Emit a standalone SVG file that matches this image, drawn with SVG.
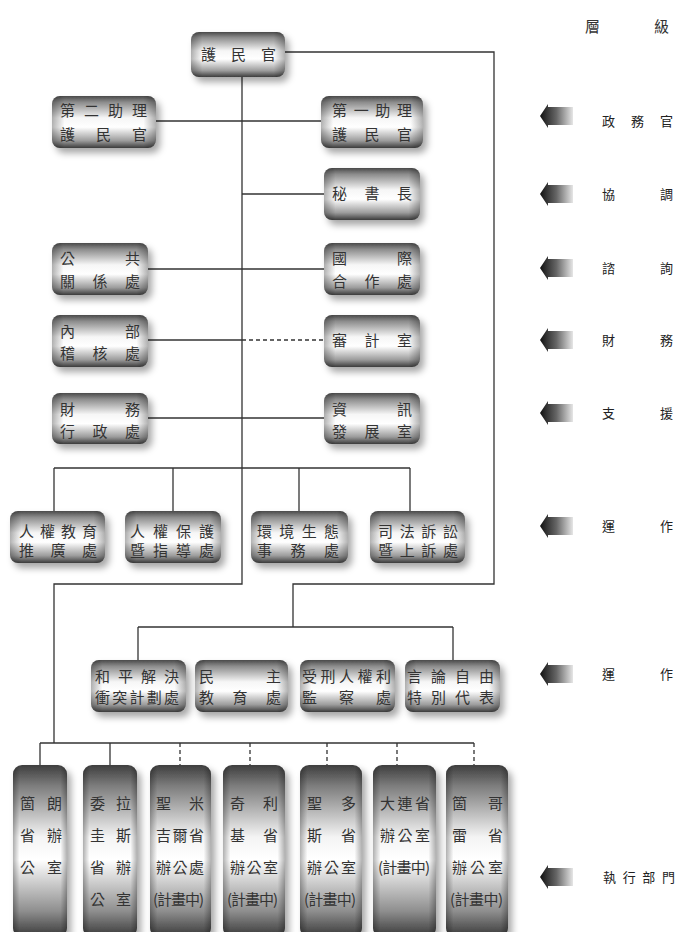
<svg xmlns="http://www.w3.org/2000/svg" width="677" height="932" viewBox="0 0 677 932">
<defs>
<style>
.bx{fill:url(#gv);filter:url(#sh)}
.bt{fill:url(#gt);filter:url(#sh)}
.ov{fill:url(#gh)}
.t{font-family:"Noto Sans CJK TC","Noto Sans CJK SC",sans-serif;font-size:15px;fill:#333}
.tb{font-family:"Noto Sans CJK TC","Noto Sans CJK SC",sans-serif;font-size:15px;fill:#333}
.lb{font-family:"Noto Sans CJK TC","Noto Sans CJK SC",sans-serif;font-size:13px;fill:#222}
.ln{fill:none;stroke:#333;stroke-width:1.3}
.ds{fill:none;stroke:#333;stroke-width:1.3;stroke-dasharray:4 3}
.ar{fill:url(#ga)}
</style>
<linearGradient id="gv" x1="0" y1="0" x2="0" y2="1">
<stop offset="0" stop-color="#4a4a4a"/>
<stop offset="0.12" stop-color="#8c8c8c"/>
<stop offset="0.42" stop-color="#f6f6f6"/>
<stop offset="0.6" stop-color="#ffffff"/>
<stop offset="0.86" stop-color="#9c9c9c"/>
<stop offset="1" stop-color="#3c3c3c"/>
</linearGradient>
<linearGradient id="gt" x1="0" y1="0" x2="0" y2="1">
<stop offset="0" stop-color="#3e3e3e"/>
<stop offset="0.12" stop-color="#7c7c7c"/>
<stop offset="0.42" stop-color="#f4f4f4"/>
<stop offset="0.55" stop-color="#ffffff"/>
<stop offset="0.85" stop-color="#8e8e8e"/>
<stop offset="1" stop-color="#383838"/>
</linearGradient>
<linearGradient id="gh" x1="0" y1="0" x2="1" y2="0">
<stop offset="0" stop-color="#000" stop-opacity="0.3"/>
<stop offset="0.12" stop-color="#000" stop-opacity="0"/>
<stop offset="0.88" stop-color="#000" stop-opacity="0"/>
<stop offset="1" stop-color="#000" stop-opacity="0.3"/>
</linearGradient>
<linearGradient id="ga" x1="0" y1="0" x2="1" y2="0">
<stop offset="0" stop-color="#111"/>
<stop offset="0.5" stop-color="#666"/>
<stop offset="1" stop-color="#e6e6e6"/>
</linearGradient>
<filter id="sh" x="-20%" y="-20%" width="150%" height="150%">
<feDropShadow dx="4" dy="5" stdDeviation="3.5" flood-color="#000" flood-opacity="0.35"/>
</filter>
<path id="arrow" d="M0,0 L8,-12 L8,-9 L33,-9 L33,9 L8,9 L8,12 Z"/>
</defs>
<rect width="677" height="932" fill="#fff"/>

<g id="connectors">
<polyline class="ln" points="285,52 494,52 494,584 293,584 293,627"/>
<line class="ln" x1="138" y1="627" x2="453" y2="627"/>
<line class="ln" x1="138" y1="627" x2="138" y2="660"/>
<line class="ln" x1="453" y1="627" x2="453" y2="660"/>
<polyline class="ln" points="242,77 242,584 54,584 54,743"/>
<line class="ln" x1="155" y1="121" x2="321" y2="121"/>
<line class="ln" x1="242" y1="194" x2="324" y2="194"/>
<line class="ln" x1="148" y1="269" x2="324" y2="269"/>
<line class="ln" x1="148" y1="340" x2="242" y2="340"/>
<line class="ds" x1="242" y1="340" x2="324" y2="340"/>
<line class="ln" x1="148" y1="418" x2="324" y2="418"/>
<line class="ln" x1="54" y1="468" x2="410" y2="468"/>
<line class="ln" x1="54" y1="468" x2="54" y2="511"/>
<line class="ln" x1="173" y1="468" x2="173" y2="511"/>
<line class="ln" x1="299" y1="468" x2="299" y2="511"/>
<line class="ln" x1="410" y1="468" x2="410" y2="511"/>
<line class="ln" x1="40" y1="743" x2="474" y2="743"/>
<line class="ln" x1="40" y1="743" x2="40" y2="765"/>
<line class="ln" x1="110" y1="743" x2="110" y2="765"/>
<line class="ds" x1="180" y1="743" x2="180" y2="765"/>
<line class="ds" x1="250" y1="743" x2="250" y2="765"/>
<line class="ds" x1="327" y1="743" x2="327" y2="765"/>
<line class="ds" x1="397" y1="743" x2="397" y2="765"/>
<line class="ds" x1="474" y1="743" x2="474" y2="765"/>
</g>

<g id="n0"><rect class="bx" x="191" y="32" width="94" height="45" rx="8"/><rect class="ov" x="191" y="32" width="94" height="45" rx="8"/>
<text class="t" x="201" y="60" textLength="75" lengthAdjust="spacing">護民官</text></g>

<g id="n1"><rect class="bx" x="52" y="96" width="104" height="52" rx="8"/><rect class="ov" x="52" y="96" width="104" height="52" rx="8"/>
<text class="t" x="60" y="116" textLength="87" lengthAdjust="spacing">第二助理</text>
<text class="t" x="60" y="140" textLength="87" lengthAdjust="spacing">護民官</text></g>

<g id="n2"><rect class="bx" x="321" y="96" width="102" height="52" rx="8"/><rect class="ov" x="321" y="96" width="102" height="52" rx="8"/>
<text class="t" x="332" y="116" textLength="80" lengthAdjust="spacing">第一助理</text>
<text class="t" x="332" y="140" textLength="80" lengthAdjust="spacing">護民官</text></g>

<g id="n3"><rect class="bx" x="324" y="168" width="96" height="52" rx="8"/><rect class="ov" x="324" y="168" width="96" height="52" rx="8"/>
<text class="t" x="332" y="199" textLength="80" lengthAdjust="spacing">秘書長</text></g>

<g id="n4"><rect class="bx" x="52" y="243" width="96" height="52" rx="8"/><rect class="ov" x="52" y="243" width="96" height="52" rx="8"/>
<text class="t" x="60" y="264" textLength="80" lengthAdjust="spacing">公共</text>
<text class="t" x="60" y="287" textLength="80" lengthAdjust="spacing">關係處</text></g>

<g id="n5"><rect class="bx" x="324" y="243" width="96" height="52" rx="8"/><rect class="ov" x="324" y="243" width="96" height="52" rx="8"/>
<text class="t" x="332" y="264" textLength="80" lengthAdjust="spacing">國際</text>
<text class="t" x="332" y="287" textLength="80" lengthAdjust="spacing">合作處</text></g>

<g id="n6"><rect class="bx" x="52" y="315" width="96" height="52" rx="8"/><rect class="ov" x="52" y="315" width="96" height="52" rx="8"/>
<text class="t" x="60" y="337" textLength="80" lengthAdjust="spacing">內部</text>
<text class="t" x="60" y="359" textLength="80" lengthAdjust="spacing">稽核處</text></g>

<g id="n7"><rect class="bx" x="324" y="315" width="96" height="52" rx="8"/><rect class="ov" x="324" y="315" width="96" height="52" rx="8"/>
<text class="t" x="332" y="346" textLength="80" lengthAdjust="spacing">審計室</text></g>

<g id="n8"><rect class="bx" x="52" y="393" width="96" height="51" rx="8"/><rect class="ov" x="52" y="393" width="96" height="51" rx="8"/>
<text class="t" x="60" y="415" textLength="80" lengthAdjust="spacing">財務</text>
<text class="t" x="60" y="437" textLength="80" lengthAdjust="spacing">行政處</text></g>

<g id="n9"><rect class="bx" x="324" y="393" width="96" height="51" rx="8"/><rect class="ov" x="324" y="393" width="96" height="51" rx="8"/>
<text class="t" x="332" y="415" textLength="80" lengthAdjust="spacing">資訊</text>
<text class="t" x="332" y="437" textLength="80" lengthAdjust="spacing">發展室</text></g>

<g id="n10"><rect class="bx" x="10" y="511" width="95" height="52" rx="8"/><rect class="ov" x="10" y="511" width="95" height="52" rx="8"/>
<text class="t" x="19" y="537" textLength="78" lengthAdjust="spacing">人權教育</text>
<text class="t" x="19" y="556" textLength="78" lengthAdjust="spacing">推廣處</text></g>

<g id="n11"><rect class="bx" x="125" y="511" width="96" height="52" rx="8"/><rect class="ov" x="125" y="511" width="96" height="52" rx="8"/>
<text class="t" x="130" y="537" textLength="84" lengthAdjust="spacing">人權保護</text>
<text class="t" x="130" y="556" textLength="84" lengthAdjust="spacing">暨指導處</text></g>

<g id="n12"><rect class="bx" x="251" y="511" width="97" height="52" rx="8"/><rect class="ov" x="251" y="511" width="97" height="52" rx="8"/>
<text class="t" x="257" y="537" textLength="82" lengthAdjust="spacing">環境生態</text>
<text class="t" x="257" y="556" textLength="82" lengthAdjust="spacing">事務處</text></g>

<g id="n13"><rect class="bx" x="370" y="511" width="95" height="52" rx="8"/><rect class="ov" x="370" y="511" width="95" height="52" rx="8"/>
<text class="t" x="378" y="537" textLength="80" lengthAdjust="spacing">司法訴訟</text>
<text class="t" x="378" y="556" textLength="80" lengthAdjust="spacing">暨上訴處</text></g>

<g id="n14"><rect class="bx" x="91" y="660" width="95" height="52" rx="8"/><rect class="ov" x="91" y="660" width="95" height="52" rx="8"/>
<text class="t" x="95" y="682" textLength="84" lengthAdjust="spacing">和平解決</text>
<text class="t" x="95" y="703" textLength="84" lengthAdjust="spacing">衝突計劃處</text></g>

<g id="n15"><rect class="bx" x="195" y="660" width="93" height="52" rx="8"/><rect class="ov" x="195" y="660" width="93" height="52" rx="8"/>
<text class="t" x="199" y="682" textLength="82" lengthAdjust="spacing">民主</text>
<text class="t" x="199" y="703" textLength="82" lengthAdjust="spacing">教育處</text></g>

<g id="n16"><rect class="bx" x="300" y="660" width="95" height="52" rx="8"/><rect class="ov" x="300" y="660" width="95" height="52" rx="8"/>
<text class="t" x="302" y="682" textLength="89" lengthAdjust="spacing">受刑人權利</text>
<text class="t" x="302" y="703" textLength="89" lengthAdjust="spacing">監察處</text></g>

<g id="n17"><rect class="bx" x="405" y="660" width="95" height="52" rx="8"/><rect class="ov" x="405" y="660" width="95" height="52" rx="8"/>
<text class="t" x="407" y="682" textLength="87" lengthAdjust="spacing">言論自由</text>
<text class="t" x="407" y="703" textLength="87" lengthAdjust="spacing">特別代表</text></g>

<g id="b1"><rect class="bt" x="13" y="765" width="54" height="172" rx="9"/><rect class="ov" x="13" y="765" width="54" height="172" rx="9"/>
<text class="tb" x="20" y="809" textLength="42" lengthAdjust="spacing">箇朗</text>
<text class="tb" x="20" y="841" textLength="42" lengthAdjust="spacing">省辦</text>
<text class="tb" x="20" y="873" textLength="42" lengthAdjust="spacing">公室</text></g>

<g id="b2"><rect class="bt" x="83" y="765" width="54" height="172" rx="9"/><rect class="ov" x="83" y="765" width="54" height="172" rx="9"/>
<text class="tb" x="90" y="809" textLength="41" lengthAdjust="spacing">委拉</text>
<text class="tb" x="90" y="841" textLength="41" lengthAdjust="spacing">圭斯</text>
<text class="tb" x="90" y="873" textLength="41" lengthAdjust="spacing">省辦</text>
<text class="tb" x="90" y="905" textLength="41" lengthAdjust="spacing">公室</text></g>

<g id="b3"><rect class="bt" x="150" y="765" width="61" height="172" rx="9"/><rect class="ov" x="150" y="765" width="61" height="172" rx="9"/>
<text class="tb" x="156" y="809" textLength="48" lengthAdjust="spacing">聖米</text>
<text class="tb" x="156" y="841" textLength="48" lengthAdjust="spacing">吉爾省</text>
<text class="tb" x="156" y="873" textLength="48" lengthAdjust="spacing">辦公處</text>
<text class="tb" x="153" y="905" textLength="51" lengthAdjust="spacing">(計畫中)</text></g>

<g id="b4"><rect class="bt" x="223" y="765" width="62" height="172" rx="9"/><rect class="ov" x="223" y="765" width="62" height="172" rx="9"/>
<text class="tb" x="230" y="809" textLength="48" lengthAdjust="spacing">奇利</text>
<text class="tb" x="230" y="841" textLength="48" lengthAdjust="spacing">基省</text>
<text class="tb" x="230" y="873" textLength="48" lengthAdjust="spacing">辦公室</text>
<text class="tb" x="227" y="905" textLength="51" lengthAdjust="spacing">(計畫中)</text></g>

<g id="b5"><rect class="bt" x="300" y="765" width="62" height="172" rx="9"/><rect class="ov" x="300" y="765" width="62" height="172" rx="9"/>
<text class="tb" x="307" y="809" textLength="49" lengthAdjust="spacing">聖多</text>
<text class="tb" x="307" y="841" textLength="49" lengthAdjust="spacing">斯省</text>
<text class="tb" x="307" y="873" textLength="49" lengthAdjust="spacing">辦公室</text>
<text class="tb" x="304" y="905" textLength="52" lengthAdjust="spacing">(計畫中)</text></g>

<g id="b6"><rect class="bt" x="373" y="765" width="63" height="172" rx="9"/><rect class="ov" x="373" y="765" width="63" height="172" rx="9"/>
<text class="tb" x="380" y="809" textLength="50" lengthAdjust="spacing">大連省</text>
<text class="tb" x="380" y="841" textLength="50" lengthAdjust="spacing">辦公室</text>
<text class="tb" x="378" y="873" textLength="52" lengthAdjust="spacing">(計畫中)</text></g>

<g id="b7"><rect class="bt" x="446" y="765" width="62" height="172" rx="9"/><rect class="ov" x="446" y="765" width="62" height="172" rx="9"/>
<text class="tb" x="452" y="809" textLength="51" lengthAdjust="spacing">箇哥</text>
<text class="tb" x="452" y="841" textLength="51" lengthAdjust="spacing">雷省</text>
<text class="tb" x="452" y="873" textLength="51" lengthAdjust="spacing">辦公室</text>
<text class="tb" x="450" y="905" textLength="53" lengthAdjust="spacing">(計畫中)</text></g>

<g id="levels">
<text class="t" x="585" y="32" textLength="84" lengthAdjust="spacing">層級</text>
<use href="#arrow" class="ar" x="540" y="116"/>
<text class="lb" x="602" y="126" textLength="71" lengthAdjust="spacing">政務官</text>
<use href="#arrow" class="ar" x="540" y="194"/>
<text class="lb" x="602" y="199" textLength="71" lengthAdjust="spacing">協調</text>
<use href="#arrow" class="ar" x="540" y="268"/>
<text class="lb" x="602" y="273" textLength="71" lengthAdjust="spacing">諮詢</text>
<use href="#arrow" class="ar" x="540" y="340"/>
<text class="lb" x="602" y="345" textLength="71" lengthAdjust="spacing">財務</text>
<use href="#arrow" class="ar" x="540" y="413"/>
<text class="lb" x="602" y="418" textLength="71" lengthAdjust="spacing">支援</text>
<use href="#arrow" class="ar" x="540" y="526"/>
<text class="lb" x="602" y="531" textLength="71" lengthAdjust="spacing">運作</text>
<use href="#arrow" class="ar" x="540" y="674"/>
<text class="lb" x="602" y="679" textLength="71" lengthAdjust="spacing">運作</text>
<use href="#arrow" class="ar" x="540" y="877"/>
<text class="lb" x="603" y="882" textLength="72" lengthAdjust="spacing">執行部門</text>
</g>
</svg>
